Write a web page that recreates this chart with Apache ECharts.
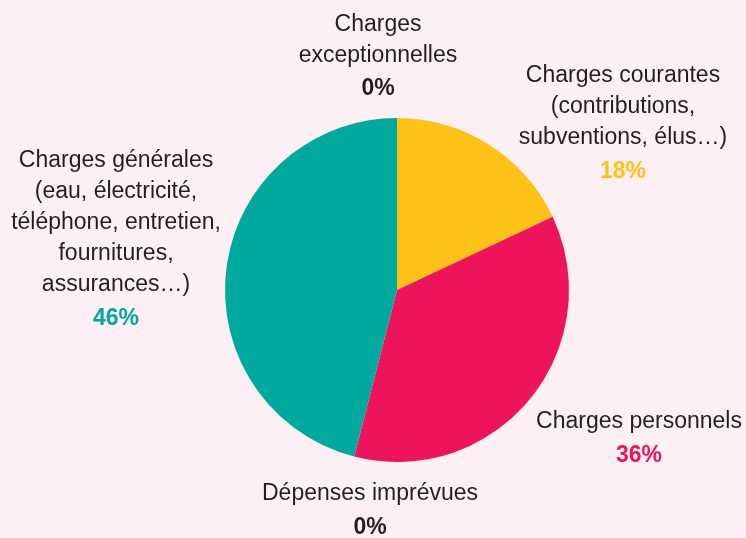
<!DOCTYPE html>
<html>
<head>
<meta charset="utf-8">
<script src="https://cdn.jsdelivr.net/npm/echarts@6/dist/echarts.min.js"></script>
<style>
  html, body { margin: 0; padding: 0; background: #fcf0f5; }
  #chart { width: 746px; height: 538px; }
</style>
</head>
<body>
<div id="chart"></div>
<script>
// slices, clockwise from the top
const names = ['Charges exceptionnelles', 'Charges courantes', 'Charges personnels', 'Dépenses imprévues', 'Charges générales'];
const values = [0, 18, 36, 0, 46];
const labelTexts = [
  'Charges\nexceptionnelles',
  'Charges courantes\n(contributions,\nsubventions, élus…)',
  'Charges personnels',
  'Dépenses imprévues',
  'Charges générales\n(eau, électricité,\ntéléphone, entretien,\nfournitures,\nassurances…)'
];
const colors = ['#231f20', '#fdc216', '#ee145b', '#231f20', '#00a99d'];

// where each label block sits (centre of block)
const labelPos = [[378, 58], [623, 125], [639, 440], [370, 512], [116, 241]];

const chart = echarts.init(document.getElementById('chart'));

const option = {
  backgroundColor: '#fcf0f5',
  animation: false,
  series: [{
    type: 'pie',
    center: [397, 290],
    radius: 172,
    startAngle: 90,
    clockwise: true,
    minShowLabelAngle: 0,
    data: names.map((n, i) => ({
      name: n,
      value: values[i],
      itemStyle: { color: colors[i] },
      label: {
        formatter: () => labelTexts[i].split('\n').map(t => '{n|' + t + '}').join('\n') + '\n{p' + i + '|' + values[i] + '%}'
      }
    })),
    label: {
      show: true,
      position: 'outside',
      overflow: 'none',
      rich: Object.assign({
        n: { fontFamily: 'Liberation Sans', fontSize: 23, color: '#231f20', lineHeight: 31, align: 'center' }
      }, Object.fromEntries(colors.map((c, i) => ['p' + i, {
        fontFamily: 'Liberation Sans', fontSize: 23, fontWeight: 'bold', color: c, lineHeight: 36, align: 'center'
      }])))
    },
    labelLine: { show: false },
    labelLayout: params => ({
      x: labelPos[params.dataIndex][0],
      y: labelPos[params.dataIndex][1],
      align: 'center',
      verticalAlign: 'middle',
      hideOverlap: false
    })
  }]
};

chart.setOption(option);
</script>
</body>
</html>
